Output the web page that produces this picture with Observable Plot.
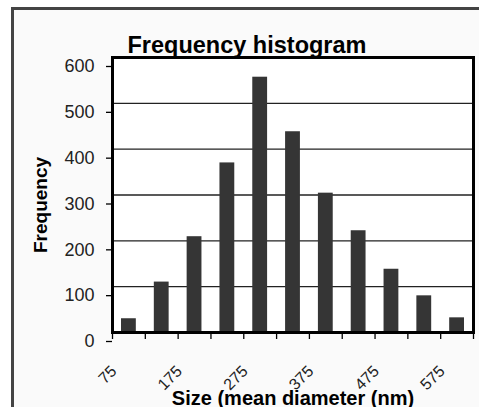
<!DOCTYPE html>
<html>
<head>
<meta charset="utf-8">
<script src="https://cdn.jsdelivr.net/npm/d3@7"></script>
<script src="https://cdn.jsdelivr.net/npm/@observablehq/plot@0.6"></script>
<style>
  html, body { margin: 0; padding: 0; background: #fff; }
  #wrap { position: relative; width: 479px; height: 407px; overflow: hidden; background: #fff; font-family: "Liberation Sans", Arial, sans-serif; }
  #panel { position: absolute; left: 11px; top: 7px; width: 520px; height: 460px; border-left: 3px solid #444; border-top: 3px solid #444; background: #fafafa; }
  #chart { position: absolute; left: 0; top: 0; }
</style>
</head>
<body>
<div id="wrap"><div id="panel"></div><div id="chart"></div></div>
<script>
// Bin centres (mean diameter, nm) and counts
const sizes  = [75, 125, 175, 225, 275, 325, 375, 425, 475, 525, 575];
const counts = [30, 110, 209, 370, 557, 438, 304, 222, 138, 80, 32];
const binWidth = 50;
// Tick positions and labels
const yTicks = [0, 100, 200, 300, 400, 500, 600];
const xTickMarks = [50, 100, 150, 200, 250, 300, 350, 400, 450, 500, 550, 600];
const xTickLabels = [75, 175, 275, 375, 475, 575];
const titleText = "Frequency histogram";
const xTitle = "Size (mean diameter (nm)";
const yTitle = "Frequency";

const data = sizes.map((s, i) => ({size: s, count: counts[i]}));

const chart = Plot.plot({
  width: 479,
  height: 407,
  marginLeft: 112,
  marginRight: 6,
  marginTop: 57,
  marginBottom: 75,
  style: {background: "transparent", fontFamily: "'Liberation Sans', Arial, sans-serif", color: "#222"},
  x: {domain: [50, 600], axis: null},
  y: {domain: [0, 600], axis: null},
  marks: [
    Plot.frame({fill: "#fff", stroke: "none"}),
    Plot.ruleY(yTicks, {stroke: "#222", strokeWidth: 1.3}),
    Plot.rectY(data, {x1: d => d.size - binWidth / 2, x2: d => d.size + binWidth / 2, y: "count", fill: "#353535", insetLeft: 9, insetRight: 9}),
    Plot.frame({stroke: "#000", strokeWidth: 3}),
    Plot.axisY({ticks: yTicks, tickSize: 6, tickPadding: 12, fontSize: 18, dy: 9, label: null, stroke: "#000", strokeWidth: 1.3}),
    Plot.axisX({ticks: xTickMarks, tickSize: 7, tickFormat: () => "", label: null, stroke: "#000", strokeWidth: 1.3}),
    Plot.axisX({ticks: xTickLabels, tickSize: 0, tickRotate: -45, tickPadding: 36, dx: -15, fontSize: 16, label: null}),
    Plot.text([titleText], {frameAnchor: "top-left", dx: 15, dy: -5, lineAnchor: "bottom", fontSize: 23.5, fontWeight: "bold", fill: "#000"}),
    Plot.text([yTitle], {frameAnchor: "left", textAnchor: "middle", dx: -72, dy: 10, rotate: -90, fontSize: 19, fontWeight: "bold", fill: "#000"}),
    Plot.text([xTitle], {frameAnchor: "bottom", dy: 72, lineAnchor: "bottom", fontSize: 20, fontWeight: "bold", fill: "#000"})
  ]
});
document.getElementById("chart").appendChild(chart);
</script>
</body>
</html>
